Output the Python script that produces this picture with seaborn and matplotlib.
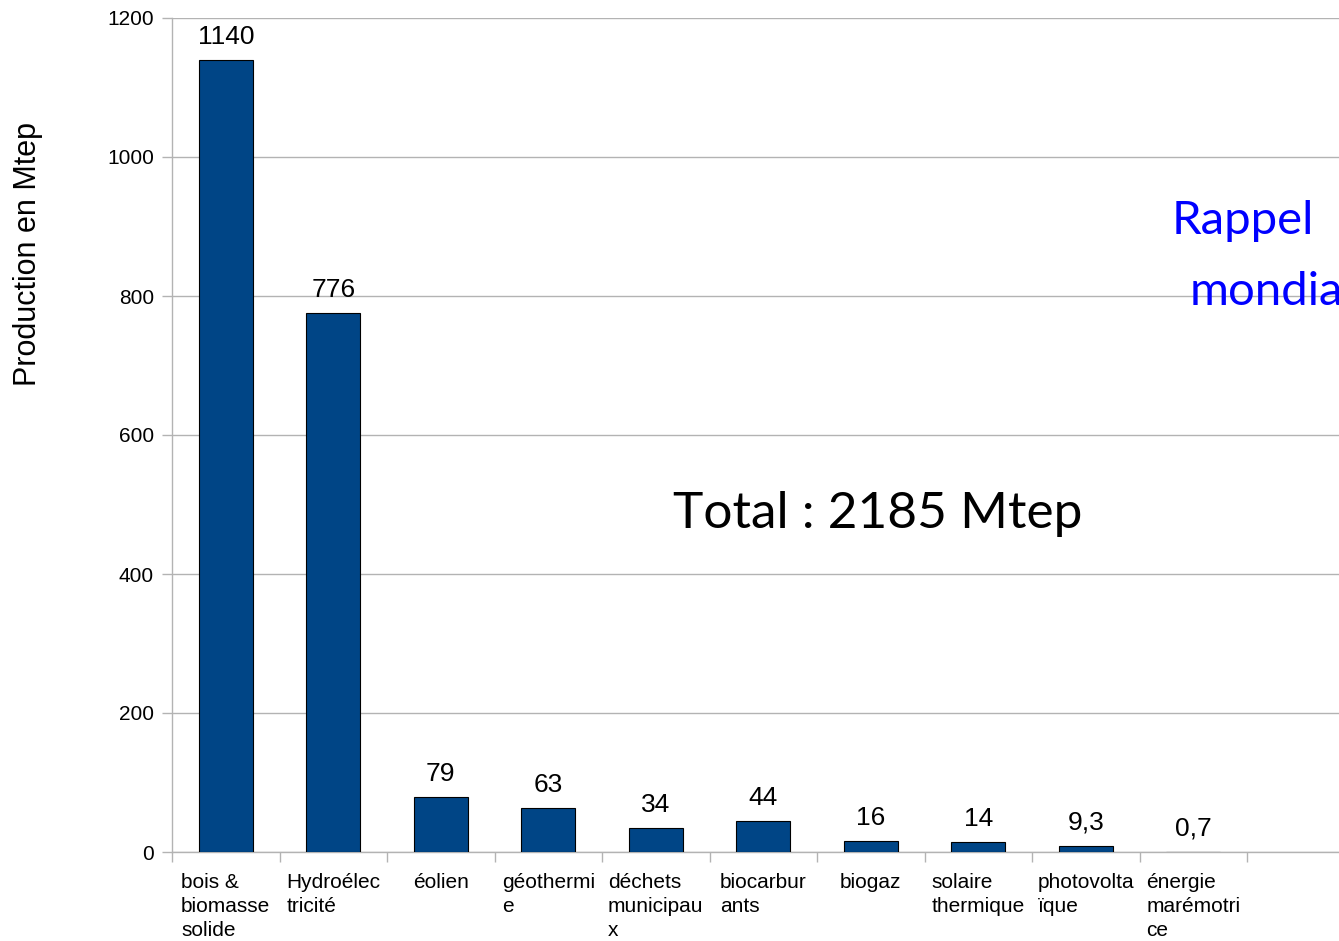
import matplotlib
matplotlib.use("Agg")
import matplotlib.pyplot as plt
import seaborn as sns
import pandas as pd
from matplotlib.ticker import FixedLocator

categories = ["bois &\nbiomasse\nsolide", "Hydroélec\ntricité", "éolien", "géothermi\ne",
              "déchets\nmunicipau\nx", "biocarbur\nants", "biogaz", "solaire\nthermique",
              "photovolta\nïque", "énergie\nmarémotri\nce"]
values = [1140, 776, 79, 63, 34, 44, 16, 14, 9.3, 0.7]
yticks = [0, 200, 400, 600, 800, 1000, 1200]

sns.set_theme(style="white")
plt.rcParams['font.family'] = ['Liberation Sans', 'DejaVu Sans']
plt.rcParams['text.color'] = 'black'

W, H = 1339, 941
fig = plt.figure(figsize=(W / 100, H / 100), dpi=100)
ax = fig.add_axes([172 / W, 1 - 852 / H, 1 - 172 / W, (852 - 18) / H])

df = pd.DataFrame({"cat": categories, "val": values})
sns.barplot(data=df, x="cat", y="val", color="#004586", saturation=1, width=0.5,
            edgecolor="black", linewidth=0.8, ax=ax, zorder=3)

ax.set_ylim(0, 1200)
ax.set_xlim(-0.5, (W - 172) / 107.5 - 0.5)
ax.set_yticks(yticks)
ax.set_yticklabels([str(t) for t in yticks], fontsize=15)
ax.yaxis.grid(True, color="#b3b3b3", linewidth=1)
ax.set_axisbelow(True)
ax.set_xlabel("")
ax.set_ylabel("")

for s in ["top", "right"]:
    ax.spines[s].set_visible(False)
for s in ["left", "bottom"]:
    ax.spines[s].set_color("#b3b3b3")
    ax.spines[s].set_linewidth(1)

ax.tick_params(axis="y", length=7, width=1, color="#b3b3b3", labelcolor="black", pad=6, left=True)
ax.tick_params(axis="x", which="major", length=0, pad=15, labelcolor="black")
ax.set_xticks(range(len(categories)))
ax.set_xticklabels(categories, fontsize=15, multialignment="left", va="top", linespacing=1.33)
ax.xaxis.set_minor_locator(FixedLocator([i - 0.5 for i in range(len(categories) + 2)]))
ax.tick_params(axis="x", which="minor", length=7, width=1, color="#b3b3b3", bottom=True)

for i, v in enumerate(values):
    ax.annotate(f"{v:g}".replace(".", ","), (i, v), xytext=(0, 8), textcoords="offset points",
                ha="center", va="bottom", fontsize=19, color="black")

fig.text(28 / W, 1 - 254 / H, "Production en Mtep", rotation=90, ha="center", va="center",
         fontsize=22, color="black")

fig.text(673 / W, 1 - 528 / H, "Total : 2185 Mtep", ha="left", va="baseline",
         fontsize=37, family=["Lato", "DejaVu Sans"], color="black")
fig.text(1172 / W, 1 - 234 / H, "Rappel", ha="left", va="baseline",
         fontsize=34, family=["Lato", "DejaVu Sans"], color="#0000ff")
fig.text(1190 / W, 1 - 305 / H, "mondial", ha="left", va="baseline",
         fontsize=34, family=["Lato", "DejaVu Sans"], color="#0000ff")

fig.savefig("out.png", dpi=100)
